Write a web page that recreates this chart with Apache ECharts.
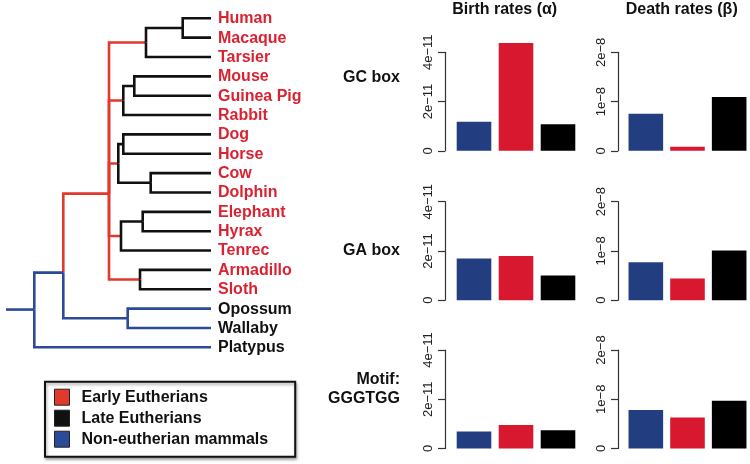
<!DOCTYPE html>
<html>
<head>
<meta charset="utf-8">
<script src="https://cdn.jsdelivr.net/npm/echarts@6/dist/echarts.min.js"></script>
<style>html,body{margin:0;padding:0;background:#fff}#c{width:750px;height:464px}</style>
</head>
<body>
<div id="c"></div>
<script>
// ---------- DATA ----------
const leaves = ['Human','Macaque','Tarsier','Mouse','Guinea Pig','Rabbit','Dog','Horse','Cow','Dolphin','Elephant','Hyrax','Tenrec','Armadillo','Sloth','Opossum','Wallaby','Platypus'];
const leafIsEutherian = [1,1,1,1,1,1,1,1,1,1,1,1,1,1,1,0,0,0];

// tree nodes: id, parent, depth (branch position), vertical position (leaf-index units), edge group
const nodeIds    = ['stem','root','theria','eutheria','primates','hm','Human','Macaque','Tarsier','glires','rodents','Mouse','Guinea Pig','Rabbit','laur','dh','Dog','Horse','cd','Cow','Dolphin','afro','eh','Elephant','Hyrax','Tenrec','xen','Armadillo','Sloth','mars','Opossum','Wallaby','Platypus'];
const nodeParent = [null,'stem','root','theria','eutheria','primates','hm','hm','primates','eutheria','glires','rodents','rodents','glires','eutheria','laur','dh','dh','laur','cd','cd','eutheria','afro','eh','eh','afro','eutheria','xen','xen','theria','mars','mars','root'];
const nodeDepth  = [6,34.3,63.3,109,146,182.7,211,211,211,123.3,134.3,211,211,211,118.3,123.3,211,211,150.7,211,211,121,142.7,211,211,211,140,211,211,127.7,211,211,211];
const nodePos    = [15.05,15.05,13.14,9.06,1.25,0.5,0,1,2,4.25,3.5,3,4,5,7.5,6.5,6,7,8.5,8,9,11.25,10.5,10,11,12,13.5,13,14,15.5,15,16,17];
const edgeGroup  = [null,'non','non','early','early','late','late','late','late','early','late','late','late','late','early','late','late','late','late','late','late','early','late','late','late','late','early','late','late','non','non','non','non'];

const groupNames = ['Early Eutherians','Late Eutherians','Non-eutherian mammals'];
const groupKeys  = ['early','late','non'];

const barCategories = ['Non-eutherian mammals','Early Eutherians','Late Eutherians'];
const birthGC    = [1.18e-11, 4.38e-11, 1.08e-11];
const deathGC    = [0.75e-8, 0.08e-8, 1.09e-8];
const birthGA    = [1.69e-11, 1.80e-11, 1.00e-11];
const deathGA    = [0.77e-8, 0.44e-8, 1.01e-8];
const birthMotif = [0.69e-11, 0.95e-11, 0.74e-11];
const deathMotif = [0.78e-8, 0.63e-8, 0.97e-8];

const birthTicks = ['0','2e\u221211','4e\u221211'];
const deathTicks = ['0','1e\u22128','2e\u22128'];
const columnTitles = ['Birth rates (\u03b1)','Death rates (\u03b2)'];
const rowLabels = [['GC box'],['GA box'],['Motif:','GGGTGG']];

// ---------- STYLE ----------
const FONT = '"Liberation Sans", Arial, Helvetica, sans-serif';
const treeColors = {early:'#e2392d', late:'#111111', non:'#2b4a97'};
const barColors = ['#233e80','#d7182f','#000000'];
const leafRed = '#db2231';

const chart = echarts.init(document.getElementById('c'), null, {renderer:'canvas'});

const grids = [], xAxes = [], yAxes = [], series = [];

// tree grid (index 0)
grids.push({left:0, top:18.3, width:211, height:329});
xAxes.push({type:'value', gridIndex:0, min:0, max:211, show:false});
yAxes.push({type:'value', gridIndex:0, min:0, max:17, inverse:true, show:false});

const idx = {};
nodeIds.forEach((id,i)=>idx[id]=i);

groupKeys.forEach((g,gi)=>{
  const data = [];
  nodeIds.forEach((id,i)=>{
    if (edgeGroup[i] !== g) return;
    const p = idx[nodeParent[i]];
    data.push([nodeDepth[p], nodePos[p], nodeDepth[i], nodePos[i]]);
  });
  series.push({
    type:'custom', name: groupNames[gi], xAxisIndex:0, yAxisIndex:0,
    itemStyle:{color:treeColors[g]},
    encode:{x:[0,2], y:[1,3]},
    renderItem:function(params, api){
      const a = api.coord([api.value(0), api.value(1)]);
      const b = api.coord([api.value(0), api.value(3)]);
      const c = api.coord([api.value(2), api.value(3)]);
      return {type:'polyline', shape:{points:[a,b,c]}, style:{stroke:treeColors[g], lineWidth:2.6, fill:null, lineJoin:'miter', lineCap:'butt'}};
    },
    data: data, silent:true, z:2
  });
});

// leaf labels
series.push({
  type:'custom', name:'leaves', xAxisIndex:0, yAxisIndex:0, silent:true, z:3,
  encode:{x:0, y:1},
  data: leaves.map((n,i)=>[nodeDepth[idx[n]], nodePos[idx[n]]]),
  renderItem:function(params, api){
    const p = api.coord([api.value(0), api.value(1)]);
    const i = params.dataIndex;
    return {type:'text', x:p[0]+7, y:p[1]+0.5, style:{text:leaves[i], fill: leafIsEutherian[i] ? leafRed : '#111',
      font:'bold 16px '+FONT, textAlign:'left', textVerticalAlign:'middle'}};
  }
});

// bar panels
const panels = [
  {vals:birthGC, ticks:birthTicks, max:4e-11, interval:2e-11},
  {vals:deathGC, ticks:deathTicks, max:2e-8, interval:1e-8},
  {vals:birthGA, ticks:birthTicks, max:4e-11, interval:2e-11},
  {vals:deathGA, ticks:deathTicks, max:2e-8, interval:1e-8},
  {vals:birthMotif, ticks:birthTicks, max:4e-11, interval:2e-11},
  {vals:deathMotif, ticks:deathTicks, max:2e-8, interval:1e-8}
];
const colLeft = [453, 625], colWidth = [126, 125], colOffset = [8, 7];
const rowTop = [52.3, 201.7, 350], rowHeight = 98.5;

panels.forEach((p,k)=>{
  const col = k % 2, row = Math.floor(k/2), gi = k+1;
  grids.push({left:colLeft[col], top:rowTop[row], width:colWidth[col], height:rowHeight});
  xAxes.push({type:'category', gridIndex:gi, data:barCategories, show:false});
  yAxes.push({type:'value', gridIndex:gi, min:0, max:p.max, interval:p.interval, offset:colOffset[col],
    axisLine:{show:true, lineStyle:{color:'#333', width:1.2}},
    axisTick:{show:true, length:7, lineStyle:{color:'#333', width:1.2}},
    splitLine:{show:false},
    axisLabel:{rotate:90, margin:10, fontSize:13, color:'#222', fontFamily:FONT,
      formatter:(v,i)=>p.ticks[i]}
  });
  series.push({
    type:'bar', xAxisIndex:gi, yAxisIndex:gi, barWidth:34.6, clip:false, silent:true,
    data: p.vals.map((v,i)=>({value:v, itemStyle:{color:barColors[i]}}))
  });
});

const graphics = [];
const titleX = [504.7, 681.7];
columnTitles.forEach((t,i)=>graphics.push({type:'text', x:titleX[i], y:9.5,
  style:{text:t, font:'bold 16px '+FONT, fill:'#111', textAlign:'center', textVerticalAlign:'middle'}}));
const rowLabelY = [[77.3],[250.7],[380,399]];
rowLabels.forEach((lines,r)=>lines.forEach((t,j)=>graphics.push({type:'text', x:400, y:rowLabelY[r][j],
  style:{text:t, font:'bold 16px '+FONT, fill:'#111', textAlign:'right', textVerticalAlign:'middle'}})));

chart.setOption({
  backgroundColor:'#ffffff',
  animation:false,
  grid:grids, xAxis:xAxes, yAxis:yAxes, series:series, graphic:graphics,
  legend:{
    data: groupNames.map((n,i)=>({name:n, itemStyle:{color:treeColors[groupKeys[i]], borderColor:'#222', borderWidth:1}})),
    orient:'vertical', left:45, top:381.7, padding:[7,27,9,9],
    itemWidth:15, itemHeight:16, itemGap:4, icon:'rect',
    borderColor:'#111', borderWidth:2, backgroundColor:'#fff',
    shadowColor:'rgba(0,0,0,0.35)', shadowBlur:3, shadowOffsetX:1, shadowOffsetY:2,
    selectedMode:false,
    textStyle:{fontSize:16, fontWeight:'bold', color:'#111', fontFamily:FONT, lineHeight:16, padding:[0,0,0,7]}
  }
});
</script>
</body>
</html>
